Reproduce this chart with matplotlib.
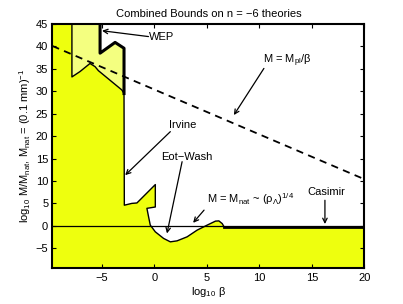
import numpy as np
import matplotlib
matplotlib.use('Agg')
import matplotlib.pyplot as plt

plt.rcParams['font.family'] = ['Liberation Sans', 'DejaVu Sans']
plt.rcParams['mathtext.fontset'] = 'custom'
plt.rcParams['mathtext.rm'] = 'Liberation Sans'
plt.rcParams['mathtext.it'] = 'Liberation Sans:italic'
plt.rcParams['font.size'] = 8

# boundary of excluded region (bright yellow)
excl_x = [-9.7, -9.7, -7.84, -7.84, -7.07, -6.12, -5.64, -5.32, -3.09, -2.88,
          -2.85, -2.14, -1.65, 0.1, 0.1, -0.7, -0.54, -0.38, 0.1, 0.89,
          1.53, 2.17, 3.13, 4.08, 5.04, 5.83, 6.15, 6.47, 6.63, 20, 20]
excl_y = [-9.5, 45, 45, 33.2, 34.4, 36.2, 35.5, 34.6, 30.3, 29.5,
          4.6, 5.0, 5.1, 9.2, 4.2, 3.9, 2.0, 0.16, -1.34, -2.81,
          -3.57, -3.35, -2.45, -0.96, 0.16, 1.05, 1.1, 0.5, -0.15, -0.15, -9.5]

# WEP bound (light yellow, thick edge)
wep_x = [-5.16, -5.16, -3.73, -2.88, -2.88]
wep_y = [45, 38.5, 40.9, 39.6, 29.5]
light_x = [-7.84, -7.84, -7.07, -6.12, -5.64, -5.32, -3.09, -2.88, -2.88, -3.73, -5.16, -5.16]
light_y = [45, 33.2, 34.4, 36.2, 35.5, 34.6, 30.3, 29.5, 39.6, 40.9, 38.5, 45]

# M = Mpl/beta line
pl_x = np.array([-9.7, 20])
pl_y = 30.4 - pl_x

fig = plt.figure(figsize=(4.03, 3.04), dpi=100)
ax = fig.add_axes([0.13, 0.117, 0.774, 0.804])

ax.fill(excl_x, excl_y, color='#EEFF0E', lw=0, zorder=1)
ax.fill(light_x, light_y, color='#F4FF80', lw=0, zorder=1)
ax.plot(excl_x[2:29], excl_y[2:29], color='k', lw=1, zorder=3)
ax.plot(excl_x[28:30], excl_y[28:30], color='k', lw=2, zorder=3)
ax.plot(wep_x, wep_y, color='k', lw=2.2, zorder=3)
ax.axhline(0, color='k', lw=0.9, zorder=2)
ax.plot(pl_x, pl_y, 'k--', lw=1.3, dashes=(4, 3), zorder=2)

arr = dict(arrowstyle='->', color='k', lw=0.9, shrinkA=0, shrinkB=0)
ax.text(-0.5, 42.2, 'WEP', va='center')
ax.annotate('', xy=(-4.97, 43.5), xytext=(-0.55, 42.2), arrowprops=arr)
ax.text(10.4, 36.9, r'M = M$_{\mathrm{pl}}$/β', va='center')
ax.annotate('', xy=(7.58, 24.7), xytext=(10.44, 35.1), arrowprops=arr)
ax.text(1.36, 22.4, 'Irvine', va='center')
ax.annotate('', xy=(-2.77, 11.3), xytext=(1.53, 21.0), arrowprops=arr)
ax.text(0.67, 15.4, 'Eot\u2212Wash', va='center')
ax.annotate('', xy=(1.21, -1.7), xytext=(2.65, 14.3), arrowprops=arr)
ax.text(5.04, 6.0, r'M = M$_{\mathrm{nat}}$ ~ (ρ$_{\mathrm{Λ}}$)$^{\mathrm{1/4}}$', va='center')
ax.annotate('', xy=(3.7, 0.67), xytext=(4.74, 3.5), arrowprops=arr)
ax.text(14.6, 7.6, 'Casimir', va='center')
ax.annotate('', xy=(16.25, 0.4), xytext=(16.25, 5.7), arrowprops=arr)

ax.set_xlim(-9.7, 20)
ax.set_ylim(-9.5, 45)
ax.set_xticks([-5, 0, 5, 10, 15, 20])
ax.set_yticks([-5, 0, 5, 10, 15, 20, 25, 30, 35, 40, 45])
ax.set_xticklabels(['\u22125', '0', '5', '10', '15', '20'])
ax.set_yticklabels(['\u22125', '0', '5', '10', '15', '20', '25', '30', '35', '40', '45'])
ax.tick_params(direction='in', top=True, right=True, length=3, width=0.8, pad=3)
for s in ax.spines.values():
    s.set_linewidth(1.5)
    s.set_zorder(5)

ax.set_title('Combined Bounds on n = \u22126 theories', fontsize=8, pad=5)
ax.set_xlabel(r'log$_{\mathrm{10}}$ β', labelpad=2)
ax.set_ylabel(r'log$_{\mathrm{10}}$ M/M$_{\mathrm{nat}}$, M$_{\mathrm{nat}}$ = (0.1 mm)$^{\mathrm{-1}}$', labelpad=2)

fig.savefig('out.png', dpi=100)
